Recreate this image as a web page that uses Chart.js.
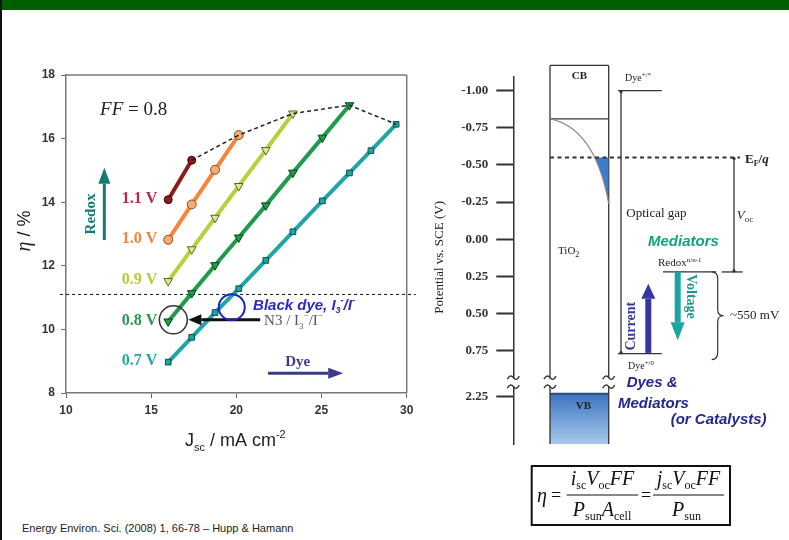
<!DOCTYPE html>
<html>
<head>
<meta charset="utf-8">
<script src="https://cdn.jsdelivr.net/npm/chart.js@4/dist/chart.umd.min.js"></script>
<style>
  html, body { margin: 0; padding: 0; background: #fff; }
  body { width: 789px; height: 540px; position: relative; overflow: hidden; }
  #topbar { position: absolute; left: 0; top: 0; width: 789px; height: 10px; background: #006000; }
  #edge { position: absolute; left: 0; top: 0; width: 2px; height: 540px; background: #111; }
  #eff { position: absolute; left: 0; top: 0; }
  #energy { position: absolute; left: 420px; top: 60px; }
  #cite { position: absolute; left: 22px; top: 522px; font: 11px "Liberation Sans", Arial, sans-serif; color: #222; white-space: nowrap; }
</style>
</head>
<body>
<div id="topbar"></div>
<div id="edge"></div>
<canvas id="eff" width="430" height="460"></canvas>
<canvas id="energy" width="369" height="480"></canvas>
<div id="cite">Energy Environ. Sci. (2008) 1, 66-78 – Hupp &amp; Hamann</div>
<script>
// ---- Efficiency vs. short-circuit current density (FF = 0.8) ----
const VOC_LABELS = ['1.1 V', '1.0 V', '0.9 V', '0.8 V', '0.7 V'];

const JSC_11 = [16.0, 17.38];
const ETA_11 = [14.08, 15.32];

const JSC_10 = [16.0, 17.38, 18.75, 20.14];
const ETA_10 = [12.82, 13.93, 15.02, 16.11];

const JSC_09 = [16.0, 17.38, 18.75, 20.14, 21.73, 23.32];
const ETA_09 = [11.52, 12.52, 13.51, 14.51, 15.64, 16.79];

const JSC_08 = [16.0, 17.38, 18.75, 20.14, 21.73, 23.32, 25.05, 26.64];
const ETA_08 = [10.25, 11.14, 12.02, 12.89, 13.90, 14.93, 16.03, 17.05];

const JSC_07 = [16.0, 17.38, 18.75, 20.14, 21.73, 23.32, 25.05, 26.64, 27.90, 29.38];
const ETA_07 = [8.97, 9.75, 10.53, 11.28, 12.17, 13.07, 14.04, 14.92, 15.62, 16.45];

// efficiency of the N3 / I3-/I- reference cell
const N3_ETA = 11.1;

// ---- Energy levels, potential vs. SCE (V) ----
const POT_TICKS = [-1.00, -0.75, -0.50, -0.25, 0.00, 0.25, 0.50, 0.75, 2.25];
const TIO2_TOP = -1.17;
const CB_EDGE = -0.81;
const TRAP_TAIL = -0.24;
const FERMI = -0.55;
const DYE_EXCITED = -1.00;
const DYE_GROUND = 0.77;
const REDOX = 0.22;
const CURRENT_SPAN = [0.765, 0.30];
const VOLTAGE_SPAN = [0.22, 0.68];
const BRACE_SPAN = [0.22, 0.81];
const VB_EDGE = 2.23;

// the axis is broken between 0.75 V and 2.25 V
const BREAK_LOW = 1.0;
const BREAK_SHIFT = 1.19;
const toAxis = v => (v > BREAK_LOW ? v - BREAK_SHIFT : v);
const BREAK_MARK = 0.962;

const SERIF = '"Liberation Serif", "Times New Roman", serif';
const SANS = '"Liberation Sans", Arial, sans-serif';

function rich(ctx, x, y, segs, align) {
  let w = 0;
  segs.forEach(s => { ctx.font = s[1]; w += ctx.measureText(s[0]).width; });
  let cx = align === 'center' ? x - w / 2 : (align === 'right' ? x - w : x);
  ctx.textAlign = 'left';
  segs.forEach(s => {
    ctx.font = s[1];
    if (s[3]) ctx.fillStyle = s[3];
    ctx.fillText(s[0], cx, y + (s[2] || 0));
    cx += ctx.measureText(s[0]).width;
  });
  return w;
}

function arrow(ctx, x1, y1, x2, y2, shaft, headLen, headW, color) {
  const ang = Math.atan2(y2 - y1, x2 - x1);
  const bx = x2 - Math.cos(ang) * headLen, by = y2 - Math.sin(ang) * headLen;
  ctx.save();
  ctx.strokeStyle = color; ctx.fillStyle = color; ctx.lineWidth = shaft; ctx.lineCap = 'butt';
  ctx.beginPath(); ctx.moveTo(x1, y1); ctx.lineTo(bx, by); ctx.stroke();
  const nx = -Math.sin(ang) * headW / 2, ny = Math.cos(ang) * headW / 2;
  ctx.beginPath(); ctx.moveTo(x2, y2); ctx.lineTo(bx + nx, by + ny); ctx.lineTo(bx - nx, by - ny); ctx.closePath(); ctx.fill();
  ctx.restore();
}

function seg(ctx, x1, y1, x2, y2) { ctx.beginPath(); ctx.moveTo(x1, y1); ctx.lineTo(x2, y2); ctx.stroke(); }

const STYLE = [
  { line: '#8c1b1b', text: '#bb2c44', point: 'circle',   bg: '#8c1b1b', edge: '#3a0808', rot: 0,   r: 4 },
  { line: '#f7863a', text: '#f5843a', point: 'circle',   bg: '#f6ad70', edge: '#8a4a20', rot: 0,   r: 4.5 },
  { line: '#b9d03e', text: '#b6cc3a', point: 'triangle', bg: '#dce79c', edge: '#56661a', rot: 180, r: 5 },
  { line: '#1f9b4b', text: '#27994f', point: 'triangle', bg: '#1f9b4b', edge: '#0c4320', rot: 180, r: 5 },
  { line: '#1ea6a6', text: '#25a6a6', point: 'rect',     bg: '#1ea6a6', edge: '#0c4f4f', rot: 0,   r: 4 }
];

const SERIES_X = [JSC_11, JSC_10, JSC_09, JSC_08, JSC_07];
const SERIES_Y = [ETA_11, ETA_10, ETA_09, ETA_08, ETA_07];

const curveSets = SERIES_X.map((xs, i) => ({
  label: VOC_LABELS[i],
  data: xs.map((x, k) => ({ x, y: SERIES_Y[i][k] })),
  showLine: true,
  borderColor: STYLE[i].line,
  borderWidth: 4,
  pointStyle: STYLE[i].point,
  pointRotation: STYLE[i].rot,
  pointRadius: STYLE[i].r,
  pointBackgroundColor: STYLE[i].bg,
  pointBorderColor: STYLE[i].edge,
  pointBorderWidth: 1,
  order: 2
}));

// dashed envelope through the highest point of every curve
const envelope = {
  label: 'max',
  data: SERIES_X.map((xs, i) => ({ x: xs[xs.length - 1], y: SERIES_Y[i][SERIES_Y[i].length - 1] })),
  showLine: true,
  borderColor: '#222',
  borderWidth: 1.5,
  borderDash: [4, 3],
  pointRadius: 0,
  order: 1
};

const effArt = {
  id: 'effArt',
  beforeDatasetsDraw(chart) {
    const ctx = chart.ctx, a = chart.chartArea, ys = chart.scales.y;
    ctx.save();
    // frame
    ctx.strokeStyle = '#777'; ctx.lineWidth = 1.5;
    seg(ctx, a.left, a.top, a.right, a.top);
    seg(ctx, a.right, a.top, a.right, a.bottom);
    // reference efficiency line
    const yN3 = ys.getPixelForValue(N3_ETA);
    ctx.strokeStyle = '#111'; ctx.lineWidth = 1; ctx.setLineDash([3, 3]);
    seg(ctx, a.left - 6, yN3, a.right + 9, yN3);
    ctx.restore();
  },
  afterDraw(chart) {
    const ctx = chart.ctx, a = chart.chartArea, xs = chart.scales.x, ys = chart.scales.y;
    const X = v => xs.getPixelForValue(v), Y = v => ys.getPixelForValue(v);
    ctx.save();
    ctx.textBaseline = 'middle';

    // voltage labels beside the first point of each curve
    SERIES_X.forEach((sx, i) => {
      ctx.fillStyle = STYLE[i].text;
      ctx.font = 'bold 16px ' + SERIF;
      ctx.textAlign = 'right';
      ctx.fillText(VOC_LABELS[i], X(sx[0]) - 11, Y(SERIES_Y[i][0]) - 1);
    });

    // FF = 0.8
    ctx.textBaseline = 'alphabetic';
    ctx.fillStyle = '#222';
    rich(ctx, X(12.0), Y(16.74), [['FF', 'italic 19px ' + SERIF], [' = 0.8', '19px ' + SERIF]], 'left');

    // Redox arrow
    arrow(ctx, X(12.25), Y(12.81), X(12.25), Y(15.08), 3, 16, 12, '#137a74');
    ctx.save();
    ctx.translate(X(11.5), Y(13.63));
    ctx.rotate(-Math.PI / 2);
    ctx.fillStyle = '#137a74'; ctx.font = 'bold 15px ' + SERIF;
    ctx.textAlign = 'center'; ctx.textBaseline = 'middle';
    ctx.fillText('Redox', 0, 0);
    ctx.restore();

    // Dye arrow
    arrow(ctx, X(21.86), Y(8.62), X(26.27), Y(8.62), 3, 15, 11, '#3a3a8c');
    ctx.fillStyle = '#3a3a8c'; ctx.font = 'bold 15px ' + SERIF;
    ctx.textAlign = 'center'; ctx.textBaseline = 'middle';
    ctx.fillText('Dye', X(23.6), Y(8.97));

    // N3 marker circle and arrow
    ctx.strokeStyle = '#333'; ctx.lineWidth = 1.5;
    ctx.beginPath(); ctx.arc(X(16.3), Y(10.3), 14, 0, Math.PI * 2); ctx.stroke();
    arrow(ctx, X(21.4), Y(10.3), X(17.18), Y(10.3), 3, 13, 11, '#111');
    ctx.textBaseline = 'alphabetic';
    const f15 = '15px ' + SERIF, f9 = '9px ' + SERIF;
    rich(ctx, X(21.63), Y(10.3) + 5, [
      ['N3 / I', f15, 0, '#555'], ['3', f9, 4], ['\u2212', f9, -7], ['/I', f15, 0], ['\u2212', f9, -7]
    ], 'left');

    // Black dye circle and label
    ctx.strokeStyle = '#2323c2'; ctx.lineWidth = 2;
    ctx.beginPath(); ctx.arc(X(19.73), Y(10.7), 13, 0, Math.PI * 2); ctx.stroke();
    const b13 = 'italic bold 15px ' + SANS, b8 = 'italic bold 9px ' + SANS;
    rich(ctx, X(20.98), Y(10.77) + 5, [
      ['Black dye, I', b13, 0, '#2a2ac8'], ['3', b8, 3], ['-', b8, -7], ['/I', b13, 0], ['-', b8, -7]
    ], 'left');

    // axis titles
    ctx.fillStyle = '#222';
    rich(ctx, (a.left + a.right) / 2 - 1, 446, [
      ['J', '18px ' + SANS], ['sc', '11px ' + SANS, 5], [' / mA cm', '18px ' + SANS], ['-2', '11px ' + SANS, -8]
    ], 'center');
    ctx.save();
    ctx.translate(25, 231);
    ctx.rotate(-Math.PI / 2);
    ctx.textBaseline = 'middle';
    rich(ctx, 0, 0, [['\u03b7', 'italic 20px ' + SERIF], [' / %', '18px ' + SANS]], 'center');
    ctx.restore();

    ctx.restore();
  }
};

new Chart(document.getElementById('eff'), {
  type: 'scatter',
  data: { datasets: [...curveSets, envelope] },
  options: {
    responsive: false,
    animation: false,
    layout: { padding: { top: 75, right: 23.3, left: 0, bottom: 0 } },
    plugins: { legend: { display: false }, tooltip: { enabled: false } },
    scales: {
      x: {
        type: 'linear', min: 10, max: 30,
        afterFit: s => { s.height = 67; },
        ticks: { stepSize: 5, color: '#333', padding: 5, font: { family: 'Liberation Sans', size: 12, weight: 'bold' } },
        grid: { drawOnChartArea: false, tickLength: 5, color: '#666' },
        border: { display: true, color: '#777', width: 1.5 }
      },
      y: {
        type: 'linear', min: 8, max: 18,
        afterFit: s => { s.width = 66; },
        ticks: { stepSize: 2, color: '#333', padding: 6, font: { family: 'Liberation Sans', size: 12, weight: 'bold' } },
        grid: { drawOnChartArea: false, tickLength: 5, color: '#666' },
        border: { display: true, color: '#777', width: 1.5 }
      }
    }
  },
  plugins: [effArt]
});

// ---- energy diagram ----
function breakMark(ctx, x, y) {
  ctx.beginPath();
  ctx.moveTo(x - 6, y + 1.5);
  ctx.quadraticCurveTo(x - 3, y - 4, x, y);
  ctx.quadraticCurveTo(x + 3, y + 4, x + 6, y - 1.5);
  ctx.stroke();
}

const energyArt = {
  id: 'energyArt',
  afterDraw(chart) {
    const ctx = chart.ctx, a = chart.chartArea, ys = chart.scales.y;
    const Y = v => ys.getPixelForValue(toAxis(v));
    const X = d => a.left + d;
    const boxL = X(36.7), boxR = X(95.4), bottom = a.bottom;
    const ink = '#333';
    ctx.save();

    // VB block
    const yVB = Y(VB_EDGE);
    const g = ctx.createLinearGradient(0, yVB, 0, bottom);
    g.addColorStop(0, '#3c74c2'); g.addColorStop(1, '#a8c8ea');
    ctx.fillStyle = g;
    ctx.fillRect(boxL, yVB, boxR - boxL, bottom - yVB);
    ctx.strokeStyle = '#2b4e7c'; ctx.lineWidth = 2;
    seg(ctx, boxL, yVB, boxR, yVB);

    // TiO2 column
    ctx.strokeStyle = ink; ctx.lineWidth = 1.3;
    seg(ctx, boxL, Y(TIO2_TOP), boxR, Y(TIO2_TOP));
    seg(ctx, boxL, Y(TIO2_TOP), boxL, bottom);
    seg(ctx, boxR, Y(TIO2_TOP), boxR, bottom);
    seg(ctx, boxL, Y(CB_EDGE), boxR, Y(CB_EDGE));

    // trap-state tail and the filled states below the quasi-Fermi level
    const yCB = Y(CB_EDGE), yTail = Y(TRAP_TAIL), yF = Y(FERMI);
    const cx = boxL + 45, cy = yCB + 9;
    ctx.save();
    ctx.beginPath(); ctx.rect(boxL, yF, boxR - boxL, yTail - yF + 2); ctx.clip();
    ctx.beginPath(); ctx.moveTo(boxL, yCB); ctx.quadraticCurveTo(cx, cy, boxR, yTail);
    ctx.lineTo(boxR, yCB); ctx.closePath();
    ctx.fillStyle = '#3f7dcc'; ctx.fill();
    ctx.restore();
    ctx.strokeStyle = '#8a8a8a'; ctx.lineWidth = 1.2;
    ctx.beginPath(); ctx.moveTo(boxL, yCB); ctx.quadraticCurveTo(cx, cy, boxR, yTail); ctx.stroke();

    // quasi-Fermi level
    ctx.strokeStyle = ink; ctx.lineWidth = 2; ctx.setLineDash([4, 3.5]);
    seg(ctx, boxL, yF, X(226.7), yF);
    ctx.setLineDash([]);

    // dye levels and optical gap
    ctx.lineWidth = 1.3;
    const yD1 = Y(DYE_EXCITED), yD0 = Y(DYE_GROUND);
    seg(ctx, X(104.7), yD1, X(148.4), yD1);
    seg(ctx, X(104.7), yD0, X(148.4), yD0);
    seg(ctx, X(107.7), yD1, X(107.7), yD0);
    ctx.fillStyle = ink;
    ctx.beginPath(); ctx.arc(X(107.7), yD1 + 1, 1.6, 0, Math.PI * 2); ctx.fill();
    ctx.beginPath(); ctx.arc(X(107.7), yD0 - 1, 1.6, 0, Math.PI * 2); ctx.fill();

    // redox level and Voc
    const yR = Y(REDOX);
    seg(ctx, X(149.7), yR, X(203), yR);
    seg(ctx, X(208.4), yR, X(229.4), yR);
    seg(ctx, X(220.7), yF, X(220.7), yR);
    ctx.beginPath(); ctx.arc(X(220.7), yF + 1, 1.6, 0, Math.PI * 2); ctx.fill();
    ctx.beginPath(); ctx.arc(X(220.7), yR - 1, 1.6, 0, Math.PI * 2); ctx.fill();

    // current and voltage arrows
    arrow(ctx, X(135), Y(CURRENT_SPAN[0]), X(135), Y(CURRENT_SPAN[1]), 6, 15, 14, '#3636a0');
    arrow(ctx, X(164.4), Y(VOLTAGE_SPAN[0]), X(164.4), Y(VOLTAGE_SPAN[1]), 6, 18, 14, '#1aa5a0');

    // brace
    const b0 = Y(BRACE_SPAN[0]), b1 = Y(BRACE_SPAN[1]), bm = (b0 + b1) / 2, bx = X(198.4);
    ctx.strokeStyle = ink; ctx.lineWidth = 1.2;
    ctx.beginPath();
    ctx.moveTo(bx, b0);
    ctx.quadraticCurveTo(bx + 6, b0, bx + 6, b0 + 7);
    ctx.lineTo(bx + 6, bm - 6);
    ctx.quadraticCurveTo(bx + 6, bm, bx + 12, bm);
    ctx.quadraticCurveTo(bx + 6, bm, bx + 6, bm + 6);
    ctx.lineTo(bx + 6, b1 - 7);
    ctx.quadraticCurveTo(bx + 6, b1, bx, b1);
    ctx.stroke();

    // axis breaks
    const yb = ys.getPixelForValue(BREAK_MARK);
    [a.left, boxL, boxR].forEach(x => {
      ctx.fillStyle = '#fff';
      ctx.fillRect(x - 3, yb - 4, 6, 8);
      ctx.strokeStyle = ink; ctx.lineWidth = 1.4;
      breakMark(ctx, x, yb - 4.5);
      breakMark(ctx, x, yb + 4.5);
    });

    // labels
    ctx.fillStyle = '#222';
    ctx.textBaseline = 'middle';
    ctx.textAlign = 'center';
    ctx.font = 'bold 11px ' + SERIF;
    ctx.fillText('CB', (boxL + boxR) / 2, Y(TIO2_TOP) + 11);
    ctx.fillText('VB', (boxL + boxR) / 2 + 4, yVB + 12);
    ctx.textBaseline = 'alphabetic';
    rich(ctx, boxL + 8, Y(0.07) + 4, [['TiO', '11px ' + SERIF], ['2', '8px ' + SERIF, 3]], 'left');
    rich(ctx, X(111.7), yD1 - 10, [['Dye', '10px ' + SERIF], ['+/*', '7px ' + SERIF, -4]], 'left');
    rich(ctx, X(114.7), yD0 + 15, [['Dye', '10px ' + SERIF], ['+/0', '7px ' + SERIF, -4]], 'left');
    rich(ctx, X(144.7), yR - 6, [['Redox', '11px ' + SERIF], ['n/n-1', '7px ' + SERIF, -4]], 'left');
    rich(ctx, X(231.7), yF + 5, [['E', 'bold 13px ' + SERIF], ['F', 'bold 8px ' + SERIF, 3], ['/', 'bold 13px ' + SERIF], ['q', 'bold italic 13px ' + SERIF]], 'left');
    rich(ctx, X(223.4), Y(-0.16) + 4, [['V', 'italic 13px ' + SERIF], ['oc', '9px ' + SERIF, 3]], 'left');
    ctx.font = '13px ' + SERIF;
    ctx.fillText('Optical gap', X(113), Y(-0.18) + 4);
    ctx.fillText('~550 mV', X(216.7), Y(0.51) + 4);

    ctx.fillStyle = '#12a47c';
    ctx.font = 'italic bold 15px ' + SANS;
    ctx.fillText('Mediators', X(134.7), Y(0.01) + 5);

    ctx.fillStyle = '#25258c';
    ctx.fillText('Dyes &', X(113.4), Y(0.96) + 5);
    ctx.fillText('Mediators', X(104.7), yVB + 14);
    ctx.fillText('(or Catalysts)', X(157.4), yVB + 30);

    // rotated arrow captions
    ctx.save();
    ctx.translate(X(118.4), Y(0.585));
    ctx.rotate(-Math.PI / 2);
    ctx.textAlign = 'center'; ctx.textBaseline = 'middle';
    ctx.fillStyle = '#3a3a9c'; ctx.font = 'bold 14px ' + SERIF;
    ctx.fillText('Current', 0, 0);
    ctx.restore();
    ctx.save();
    ctx.translate(X(177.4), Y(0.385));
    ctx.rotate(Math.PI / 2);
    ctx.textAlign = 'center'; ctx.textBaseline = 'middle';
    ctx.fillStyle = '#179a96'; ctx.font = 'bold 14px ' + SERIF;
    ctx.fillText('Voltage', 0, 0);
    ctx.restore();

    // axis title
    ctx.save();
    ctx.translate(a.left - 73.3, (a.top + a.bottom) / 2 - 3);
    ctx.rotate(-Math.PI / 2);
    ctx.textAlign = 'center'; ctx.textBaseline = 'middle';
    ctx.fillStyle = '#222'; ctx.font = '13px ' + SERIF;
    ctx.fillText('Potential vs. SCE (V)', 0, 0);
    ctx.restore();

    // efficiency definition
    ctx.save();
    ctx.translate(-420, -60);
    ctx.strokeStyle = '#111'; ctx.lineWidth = 2;
    ctx.strokeRect(531.7, 466, 198.3, 59);
    ctx.fillStyle = '#111';
    ctx.textBaseline = 'alphabetic';
    const I = 'italic 20px ' + SERIF, R = '12px ' + SERIF, E = '18px ' + SERIF;
    rich(ctx, 537, 502, [['\u03b7', I]], 'left');
    rich(ctx, 551, 501, [['=', E]], 'left');
    rich(ctx, 602.5, 485, [['i', I], ['sc', R, 4], ['V', I], ['oc', R, 4], ['FF', I]], 'center');
    rich(ctx, 602, 516, [['P', I], ['sun', R, 4], ['A', I], ['cell', R, 4]], 'center');
    rich(ctx, 641, 501, [['=', E]], 'left');
    rich(ctx, 688.5, 485, [['j', I], ['sc', R, 4], ['V', I], ['oc', R, 4], ['FF', I]], 'center');
    rich(ctx, 686.5, 516, [['P', I], ['sun', R, 4]], 'center');
    ctx.lineWidth = 1.2;
    seg(ctx, 566.7, 495, 638.3, 495);
    seg(ctx, 653, 495, 724, 495);
    ctx.restore();

    ctx.restore();
  }
};

new Chart(document.getElementById('energy'), {
  type: 'scatter',
  data: { datasets: [] },
  options: {
    responsive: false,
    animation: false,
    layout: { padding: { top: 16.7, right: 0, left: 0, bottom: 96 } },
    plugins: { legend: { display: false }, tooltip: { enabled: false } },
    scales: {
      x: { type: 'linear', min: 0, max: 1, display: false },
      y: {
        type: 'linear', reverse: true, min: -1.094, max: 1.378,
        afterBuildTicks: s => { s.ticks = POT_TICKS.map(v => ({ value: toAxis(v) })); },
        afterFit: s => { s.width = 93.3; },
        ticks: {
          callback: (v, i) => POT_TICKS[i].toFixed(2),
          color: '#333', padding: 8,
          font: { family: 'Liberation Serif', size: 13, weight: 'bold' }
        },
        grid: { drawOnChartArea: false, tickLength: 17, tickWidth: 2, color: '#333' },
        border: { display: true, color: '#333', width: 1.5 }
      }
    }
  },
  plugins: [energyArt]
});
</script>
</body>
</html>
